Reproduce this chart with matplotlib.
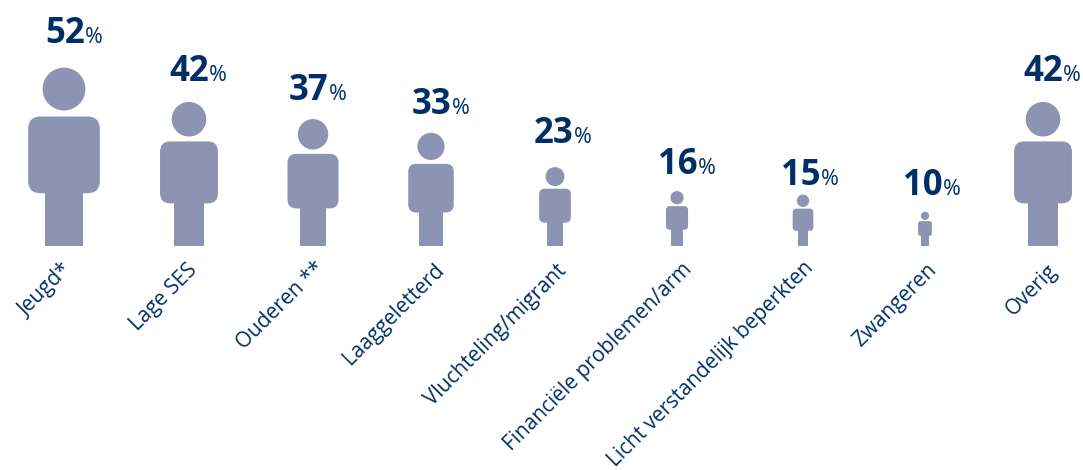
import matplotlib
matplotlib.use('Agg')
import matplotlib.pyplot as plt
from matplotlib.patches import Circle, FancyBboxPatch, Rectangle

# Data
labels = ['Jeugd*', 'Lage SES', 'Ouderen **', 'Laaggeletterd', 'Vluchteling/migrant',
          'Financiële problemen/arm', 'Licht verstandelijk beperkten', 'Zwangeren', 'Overig']
values = [52, 42, 37, 33, 23, 16, 15, 10, 42]

# Layout, all in reference pixels
width, height = 1083, 470
baseline = 246
px_per_pct = 3.43
centers = [64, 189, 313, 431, 555, 677, 803, 925, 1043]
number_left = [45, 169, 289, 412, 534, 658, 781, 903, 1023]
number_base = [43, 81, 100, 114, 143, 174, 185, 195, 81]
label_end = [(61, 260), (187, 260), (314, 258), (434, 260), (556, 260), (681, 259), (803, 257), (926, 259), (1047, 260)]

person_color = '#8C93B3'
text_color = '#002F66'
plt.rcParams['font.family'] = ['Open Sans', 'DejaVu Sans']

fig = plt.figure(figsize=(width / 100, height / 100), dpi=100)
ax = fig.add_axes([0, 0, 1, 1])
ax.set_xlim(0, width)
ax.set_ylim(height - baseline, -baseline)  # y = 0 at the feet, up is negative
ax.set_aspect('equal')
ax.axis('off')


# Figure of a person whose height stands for the value
def draw_person(cx, value):
    h = value * px_per_pct
    head_r = 0.12 * h
    ax.add_patch(Circle((cx, -h + head_r), head_r, fc=person_color, ec='none'))
    body_w = 0.402 * h
    body_top = -0.726 * h
    body_h = 0.430 * h
    ax.add_patch(FancyBboxPatch((cx - body_w / 2, body_top), body_w, body_h,
                                boxstyle=f'round,pad=0,rounding_size={0.07 * h}',
                                fc=person_color, ec='none'))
    leg_w = 0.212 * h
    ax.add_patch(Rectangle((cx - leg_w / 2, body_top + body_h - 1), leg_w, 0.296 * h + 1,
                           fc=person_color, ec='none'))


for i, value in enumerate(values):
    draw_person(centers[i], value)
    base = number_base[i] - baseline
    ax.text(number_left[i], base, str(value), fontsize=25, fontweight='bold',
            color=text_color, ha='left', va='baseline')
    ax.text(number_left[i] + 40, base, '%', fontsize=15.5,
            color=text_color, ha='left', va='baseline')
    ax.text(label_end[i][0], label_end[i][1] - baseline, labels[i], fontsize=15, color=text_color,
            rotation=45, ha='right', va='top', rotation_mode='anchor')

fig.savefig('out.png', dpi=100)
